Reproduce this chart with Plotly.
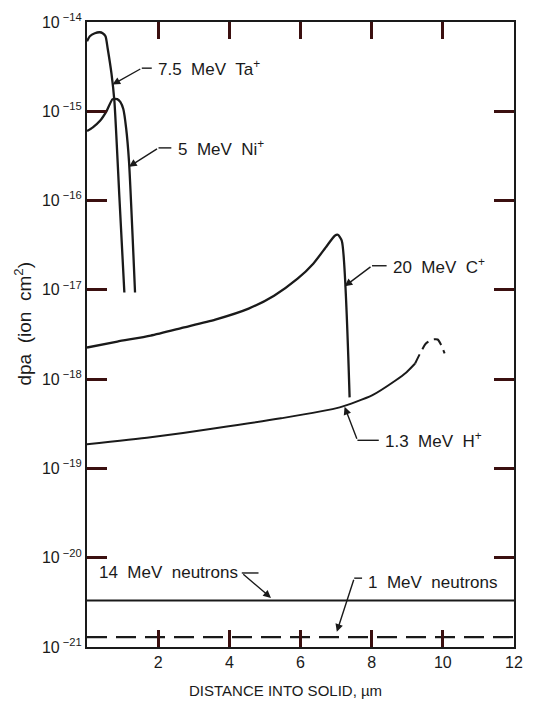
import plotly.graph_objects as go

# ---------------- data ----------------
# 7.5 MeV Ta+
ta_x = [0.0, 0.08, 0.22, 0.36, 0.44, 0.52, 0.58, 0.69, 0.77, 0.91, 1.05]
ta_logy = [-14.216, -14.160, -14.126, -14.115, -14.126, -14.160, -14.294, -14.584, -14.886, -15.96, -17.03]
# 5 MeV Ni+
ni_x = [0.0, 0.165, 0.36, 0.55, 0.72, 0.85, 0.94, 1.02, 1.10, 1.18, 1.35]
ni_logy = [-15.222, -15.18, -15.11, -14.998, -14.864, -14.864, -14.897, -14.975, -15.19, -15.56, -17.03]
# 20 MeV C+
c_x = [0.0, 0.853, 1.789, 2.697, 3.606, 4.542, 5.257, 5.918, 6.358, 6.744, 6.964, 7.05, 7.16, 7.38]
c_logy = [-17.646, -17.579, -17.512, -17.423, -17.333, -17.210, -17.065, -16.875, -16.707, -16.506, -16.394, -16.383, -16.450, -18.204]
# 1.3 MeV H+ (solid part, then dashed extrapolation)
h_x = [0.0, 1.789, 3.606, 5.450, 7.101, 8.010, 8.670, 8.973, 9.221]
h_logy = [-18.730, -18.652, -18.551, -18.439, -18.316, -18.182, -18.015, -17.925, -17.825]
h_dash_x = [9.221, 9.524, 9.716, 9.854, 9.96, 10.05]
h_dash_logy = [-17.825, -17.601, -17.556, -17.556, -17.623, -17.712]
# neutrons (flat)
n14_x = [0.0, 12.0]
n14_logy = [-20.480, -20.480]
n1_x = [0.0, 12.0]
n1_logy = [-20.889, -20.889]

x_ticks = [2, 4, 6, 8, 10, 12]
y_decades = [-21, -20, -19, -18, -17, -16, -15, -14]
y_ticktext = ["10<sup> −%d</sup>" % (-d) for d in y_decades]

labels = ["7.5  MeV  Ta<sup>+</sup>", "5  MeV  Ni<sup>+</sup>", "20  MeV  C<sup>+</sup>",
          "1.3  MeV  H<sup>+</sup>", "14  MeV  neutrons", "1  MeV  neutrons"]
x_title = "DISTANCE INTO SOLID, µm"
y_title = "dpa  (ion  cm<sup>2</sup>)"

# ---------------- label / leader placement (styling) ----------------
# text_x, text_logy, stub_end_x, corner_x, corner_logy, tip_x, tip_logy
leaders = [
    (1.93, -14.51, 1.82, 1.54, -14.517, 0.716, -14.70),
    (2.50, -15.41, 2.37, 2.01, -15.41, 1.18, -15.62),
    (8.53, -16.73, 8.42, 8.01, -16.73, 7.24, -16.96),
    (8.31, -18.685, 8.20, 7.60, -18.685, 7.24, -18.31),
    (0.275, -20.171, 4.82, 4.35, -20.171, 5.17, -20.45),
    (7.84, -20.276, 7.73, 7.51, -20.229, 7.02, -20.83),
]

FONT = "Liberation Sans, Arial, sans-serif"
INK = "#1a1a1a"
TICK = "#3b1010"

fig = go.Figure()

def p(v):
    return [10 ** a for a in v]

curve = dict(color=INK, width=2.3)
fig.add_trace(go.Scatter(x=ta_x, y=p(ta_logy), mode="lines", line=dict(**curve, shape="spline", smoothing=0.6)))
fig.add_trace(go.Scatter(x=ni_x, y=p(ni_logy), mode="lines", line=dict(**curve, shape="spline", smoothing=0.6)))
fig.add_trace(go.Scatter(x=c_x, y=p(c_logy), mode="lines", line=dict(**curve, shape="spline", smoothing=0.6)))
fig.add_trace(go.Scatter(x=h_x, y=p(h_logy), mode="lines", line=dict(color=INK, width=2.0, shape="spline", smoothing=0.6)))
fig.add_trace(go.Scatter(x=h_dash_x, y=p(h_dash_logy), mode="lines",
                         line=dict(color=INK, width=2.0, shape="spline", smoothing=0.6, dash="10px,6px")))
fig.add_trace(go.Scatter(x=n14_x, y=p(n14_logy), mode="lines", line=dict(color=INK, width=2.0)))
fig.add_trace(go.Scatter(x=n1_x, y=p(n1_logy), mode="lines", line=dict(color=INK, width=2.2, dash="20px,9px")))

annotations = []
for (tx, ty, sx, cx, cy, px_, py_), lab in zip(leaders, labels):
    # horizontal stub of the leader
    fig.add_trace(go.Scatter(x=[sx, cx], y=[10 ** cy, 10 ** cy], mode="lines",
                             line=dict(color=INK, width=1.4)))
    annotations.append(dict(x=tx, y=ty, xref="x", yref="y", text=lab, showarrow=False,
                            xanchor="left", yanchor="middle",
                            font=dict(family=FONT, size=17, color=INK)))
    annotations.append(dict(x=px_, y=py_, ax=cx, ay=cy, xref="x", yref="y", axref="x", ayref="y",
                            text="", showarrow=True, arrowhead=2, arrowsize=1.1, arrowwidth=1.4,
                            arrowcolor=INK, standoff=0, startstandoff=0))

# axis titles
annotations.append(dict(x=0.466, y=-0.069, xref="paper", yref="paper", text=x_title, showarrow=False,
                        xanchor="center", yanchor="middle", font=dict(family=FONT, size=15, color=INK)))
annotations.append(dict(x=-0.152, y=0.5176, xref="paper", yref="paper", text=y_title, showarrow=False,
                        textangle=-90, xanchor="center", yanchor="middle",
                        font=dict(family=FONT, size=19, color=INK)))

fig.update_layout(
    width=534, height=701,
    margin=dict(l=87, r=11, t=21, b=54),
    paper_bgcolor="white", plot_bgcolor="white",
    showlegend=False,
    font=dict(family=FONT, color=INK, size=14),
    annotations=annotations,
    xaxis=dict(range=[0, 12], tickvals=x_ticks, ticktext=[str(v) for v in x_ticks],
               ticks="inside", ticklen=17, tickwidth=2.5, tickcolor=TICK,
               showline=True, linecolor=INK, linewidth=2, mirror="ticks",
               showgrid=False, zeroline=False,
               tickfont=dict(family=FONT, size=16, color=INK)),
    yaxis=dict(type="log", range=[-21, -14], tickvals=[10 ** d for d in y_decades], ticktext=y_ticktext,
               ticks="inside", ticklen=20, tickwidth=2.5, tickcolor=TICK,
               showline=True, linecolor=INK, linewidth=2, mirror="ticks",
               showgrid=False, zeroline=False,
               tickfont=dict(family=FONT, size=16, color=INK)),
)

fig.write_html("out.html")
